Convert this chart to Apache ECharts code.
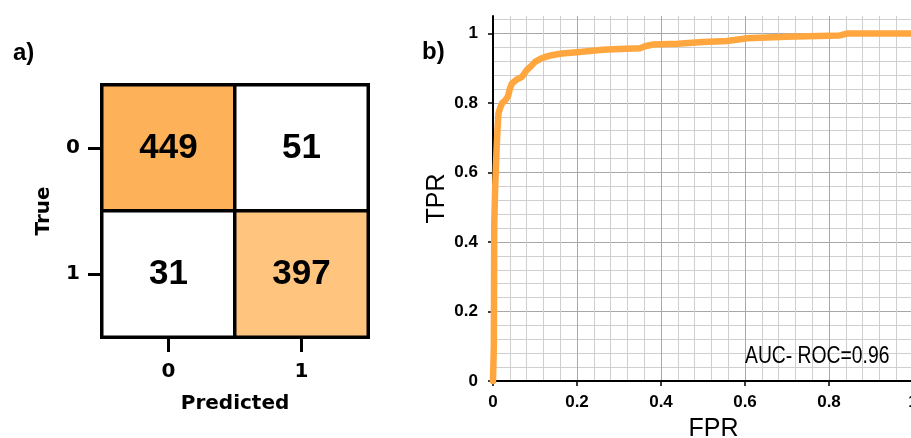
<!DOCTYPE html>
<html>
<head>
<meta charset="utf-8">
<script src="https://cdn.jsdelivr.net/npm/echarts@6/dist/echarts.min.js"></script>
<style>html,body{margin:0;padding:0;background:#fff}#c{width:911px;height:438px}</style>
</head>
<body>
<div id="c"></div>
<script>
// ---- data ----
const predLabels = ['0', '1'];
const trueLabels = ['0', '1'];
const counts = [[449, 51], [31, 397]]; // rows: true, cols: predicted
const fpr = [0, 0.002, 0.003, 0.005, 0.007, 0.009, 0.011, 0.013, 0.017, 0.022, 0.029, 0.033, 0.036, 0.040, 0.045, 0.055, 0.068, 0.075, 0.080, 0.090, 0.100, 0.112, 0.124, 0.143, 0.164, 0.200, 0.262, 0.300, 0.350, 0.362, 0.381, 0.440, 0.500, 0.557, 0.588, 0.605, 0.700, 0.800, 0.826, 0.845, 0.900, 1.0];
const tpr = [0, 0.10, 0.45, 0.55, 0.62, 0.68, 0.73, 0.77, 0.785, 0.80, 0.807, 0.812, 0.82, 0.84, 0.856, 0.866, 0.874, 0.885, 0.894, 0.905, 0.918, 0.926, 0.932, 0.938, 0.942, 0.946, 0.953, 0.955, 0.957, 0.963, 0.968, 0.970, 0.975, 0.978, 0.983, 0.986, 0.990, 0.993, 0.994, 1.0, 1.0, 1.0];
const rocTicks = [0, 0.2, 0.4, 0.6, 0.8, 1];
const aucText = 'AUC- ROC=0.96';

// ---- build ----
const heatData = [];
for (let t = 0; t < trueLabels.length; t++) {
  for (let p = 0; p < predLabels.length; p++) {
    heatData.push([p, t, counts[t][p]]);
  }
}
const rocData = fpr.map((x, i) => [x, tpr[i]]);
const gridCols = ['#a8a8a8', '#cfcfcf', '#cfcfcf', '#cfcfcf', '#cfcfcf'];
const dv = 'DejaVu Sans';
const lib = 'Liberation Sans';

function gridAxis() {
  return {
    gridIndex: 1, type: 'value', min: 0, max: 1.05, interval: 0.04,
    axisLine: {show: false}, axisTick: {show: false}, axisLabel: {show: false},
    splitLine: {show: true, showMaxLine: false, lineStyle: {color: gridCols, width: 1}},
    z: 0
  };
}

const chart = echarts.init(document.getElementById('c'), null, {renderer: 'canvas'});
chart.setOption({
  animation: false,
  backgroundColor: '#fff',
  title: [
    {text: 'a)', left: 8, top: 36, textStyle: {fontFamily: lib, fontSize: 24, fontWeight: 'bold', color: '#000'}},
    {text: 'b)', left: 417, top: 35, textStyle: {fontFamily: lib, fontSize: 24, fontWeight: 'bold', color: '#000'}}
  ],
  graphic: [
    {type: 'text', x: 745, y: 345, scaleX: 0.84, z: 10,
     style: {text: aucText, font: '23px "Liberation Sans"', fill: '#000', textVerticalAlign: 'top'}}
  ],
  grid: [
    {left: 102, top: 85, width: 266, height: 252, outerBoundsMode: 'none'},
    {left: 493, top: 16, width: 441, height: 365, outerBoundsMode: 'none'}
  ],
  visualMap: [{
    type: 'piecewise', show: false, seriesIndex: 0, dimension: 2,
    pieces: [
      {lt: 100, color: '#ffffff'},
      {gte: 100, lt: 420, color: '#FFC47E'},
      {gte: 420, color: '#FDB158'}
    ]
  }],
  xAxis: [
    {
      gridIndex: 0, type: 'category', data: predLabels,
      name: 'Predicted', nameLocation: 'middle', nameGap: 57,
      nameTextStyle: {fontFamily: dv, fontWeight: 'bold', fontSize: 20, color: '#000'},
      axisLine: {show: false},
      axisTick: {show: true, alignWithLabel: true, length: 15, lineStyle: {color: '#000', width: 3}},
      axisLabel: {margin: 25, fontFamily: dv, fontWeight: 'bold', fontSize: 20, color: '#000'},
      splitLine: {show: false}
    },
    {
      gridIndex: 1, type: 'value', min: 0, max: 1.05, interval: 0.2,
      name: 'FPR', nameLocation: 'middle', nameGap: 36,
      nameTextStyle: {fontFamily: lib, fontSize: 25, color: '#000'},
      axisLine: {show: true, onZero: false, lineStyle: {color: '#000', width: 2}},
      axisTick: {show: true, customValues: rocTicks, length: 5, lineStyle: {color: '#000', width: 1.5}},
      axisLabel: {customValues: rocTicks, margin: 13, fontFamily: lib, fontWeight: 'bold', fontSize: 17, color: '#000'},
      splitLine: {show: false},
      z: 3
    },
    gridAxis()
  ],
  yAxis: [
    {
      gridIndex: 0, type: 'category', data: trueLabels, inverse: true,
      name: 'True', nameLocation: 'middle', nameGap: 48, nameRotate: 90,
      nameTextStyle: {fontFamily: dv, fontWeight: 'bold', fontSize: 20, color: '#000'},
      axisLine: {show: false},
      axisTick: {show: true, alignWithLabel: true, length: 14, lineStyle: {color: '#000', width: 3}},
      axisLabel: {margin: 22, fontFamily: dv, fontWeight: 'bold', fontSize: 20, color: '#000'},
      splitLine: {show: false}
    },
    {
      gridIndex: 1, type: 'value', min: 0, max: 1.05, interval: 0.2,
      name: 'TPR', nameLocation: 'middle', nameGap: 43, nameRotate: 90,
      nameTextStyle: {fontFamily: lib, fontSize: 25, color: '#000'},
      axisLine: {show: true, onZero: false, lineStyle: {color: '#000', width: 2}},
      axisTick: {show: true, customValues: rocTicks, length: 5, lineStyle: {color: '#000', width: 1.5}},
      axisLabel: {customValues: rocTicks, margin: 15, fontFamily: lib, fontWeight: 'bold', fontSize: 17, color: '#000'},
      splitLine: {show: false},
      z: 3
    },
    gridAxis()
  ],
  series: [
    {
      type: 'heatmap', xAxisIndex: 0, yAxisIndex: 0, data: heatData,
      itemStyle: {borderColor: '#000', borderWidth: 3.5},
      label: {show: true, fontFamily: lib, fontWeight: 'bold', fontSize: 35, color: '#000'},
      emphasis: {disabled: true}
    },
    {
      type: 'line', xAxisIndex: 1, yAxisIndex: 1, data: rocData,
      showSymbol: false, symbol: 'none', clip: true,
      lineStyle: {color: '#FFA63F', width: 6.5, join: 'round', cap: 'round'},
      z: 5
    }
  ]
});
</script>
</body>
</html>
